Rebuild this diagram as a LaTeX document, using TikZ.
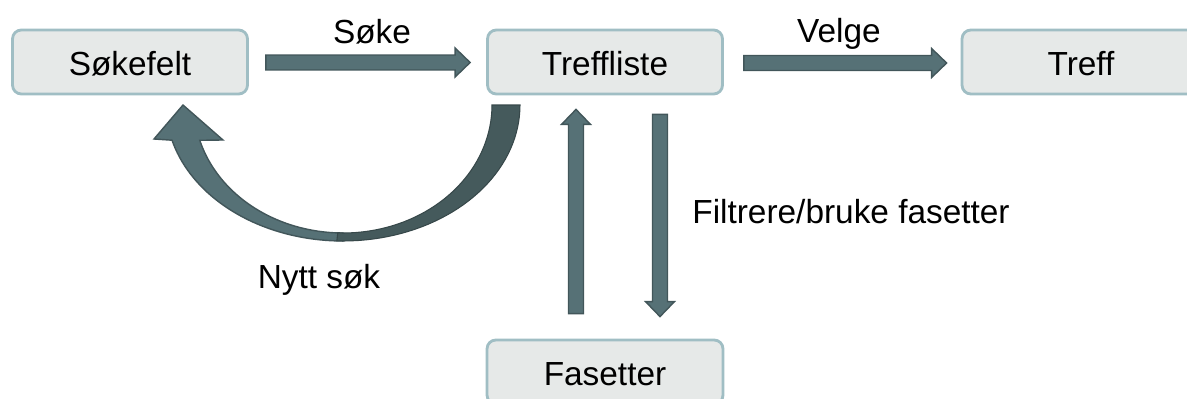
\documentclass[tikz,border=0pt]{standalone}
\usepackage{fontspec}
\setmainfont{Liberation Sans}
\usetikzlibrary{calc}
\definecolor{boxfill}{RGB}{230,233,232}
\definecolor{boxline}{RGB}{160,190,196}
\definecolor{arrfill}{RGB}{86,113,118}
\definecolor{arrline}{RGB}{66,86,90}
\definecolor{curvedark}{RGB}{69,90,92}
\newcommand\blockarrow[2]{%
  \coordinate (ba-c) at ($(#2)!8.5pt!(#1)$);
  \filldraw[barrow] ($(#1)!4.25pt!90:(#2)$) -- ($(ba-c)!4.25pt!90:(#2)$) -- ($(ba-c)!8.2pt!90:(#2)$) -- (#2) -- ($(ba-c)!8.2pt!-90:(#2)$) -- ($(ba-c)!4.25pt!-90:(#2)$) -- ($(#1)!4.25pt!-90:(#2)$) -- cycle;}
\tikzset{
  stepbox/.style={draw=boxline, line width=1.6pt, fill=boxfill, rounded corners=5pt,
    minimum width=4.7cm, minimum height=1.28cm, text height=14.8pt, text depth=0pt,
    font=\fontsize{19}{23}\selectfont},
  lbl/.style={anchor=base, font=\fontsize{19}{23}\selectfont},
  barrow/.style={fill=arrfill, draw=arrline, line width=0.8pt, line join=miter},
}
\begin{document}
\begin{tikzpicture}[x=0.02cm, y=-0.02cm]
\useasboundingbox (0,0) rectangle (1187,399);
\clip (0,0) rectangle (1187,399);
\node[stepbox] (sok) at (130,62) {Søkefelt};
\node[stepbox] (tl) at (605,62) {Treffliste};
\node[stepbox, minimum width=4.76cm] (treff) at (1081,62) {Treff};
\node[stepbox, minimum width=4.72cm] (fas) at (605,372) {Fasetter};
% straight block arrows
\coordinate (a1s) at ($(sok.east)+(17,0.5)$);
\coordinate (a1e) at ($(tl.west)+(-16,0.5)$);
\blockarrow{a1s}{a1e}
\coordinate (a2s) at ($(tl.east)+(20,1)$);
\coordinate (a2e) at ($(treff.west)+(-14,1)$);
\blockarrow{a2s}{a2e}
\coordinate (a3s) at ($(fas.north)+(-29,-25)$);
\coordinate (a3e) at ($(tl.south)+(-29,14)$);
\blockarrow{a3s}{a3e}
\coordinate (a4s) at ($(tl.south)+(55,19)$);
\coordinate (a4e) at ($(fas.north)+(55,-22)$);
\blockarrow{a4s}{a4e}
% curved arrow (Nytt søk)
\filldraw[fill=arrfill, draw=arrline, line width=0.8pt, line join=miter]
  plot[domain=90:165, samples=40] ({343+177*cos(\x)},{105+136*sin(\x)})
  -- (154,139) -- (183,105) -- (223,140)
  -- plot[domain=164:90, samples=40] ({343+149*cos(\x)},{105+128*sin(\x)}) -- cycle;
\filldraw[fill=curvedark, draw=curvedark!80!black, line width=0.6pt]
  plot[domain=0:92, samples=40] ({343+177*cos(\x)},{105+136*sin(\x)})
  -- plot[domain=92:0, samples=40] ({343+149*cos(\x)},{105+128*sin(\x)}) -- cycle;
% labels
\node[lbl] (lsoke) at (372,43) {Søke};
\node[lbl] (lvelge) at (839,42) {Velge};
\node[lbl] (lnytt) at (319,288) {Nytt søk};
\node[lbl] (lfilt) at (851,223) {Filtrere/bruke fasetter};
\end{tikzpicture}
\end{document}
